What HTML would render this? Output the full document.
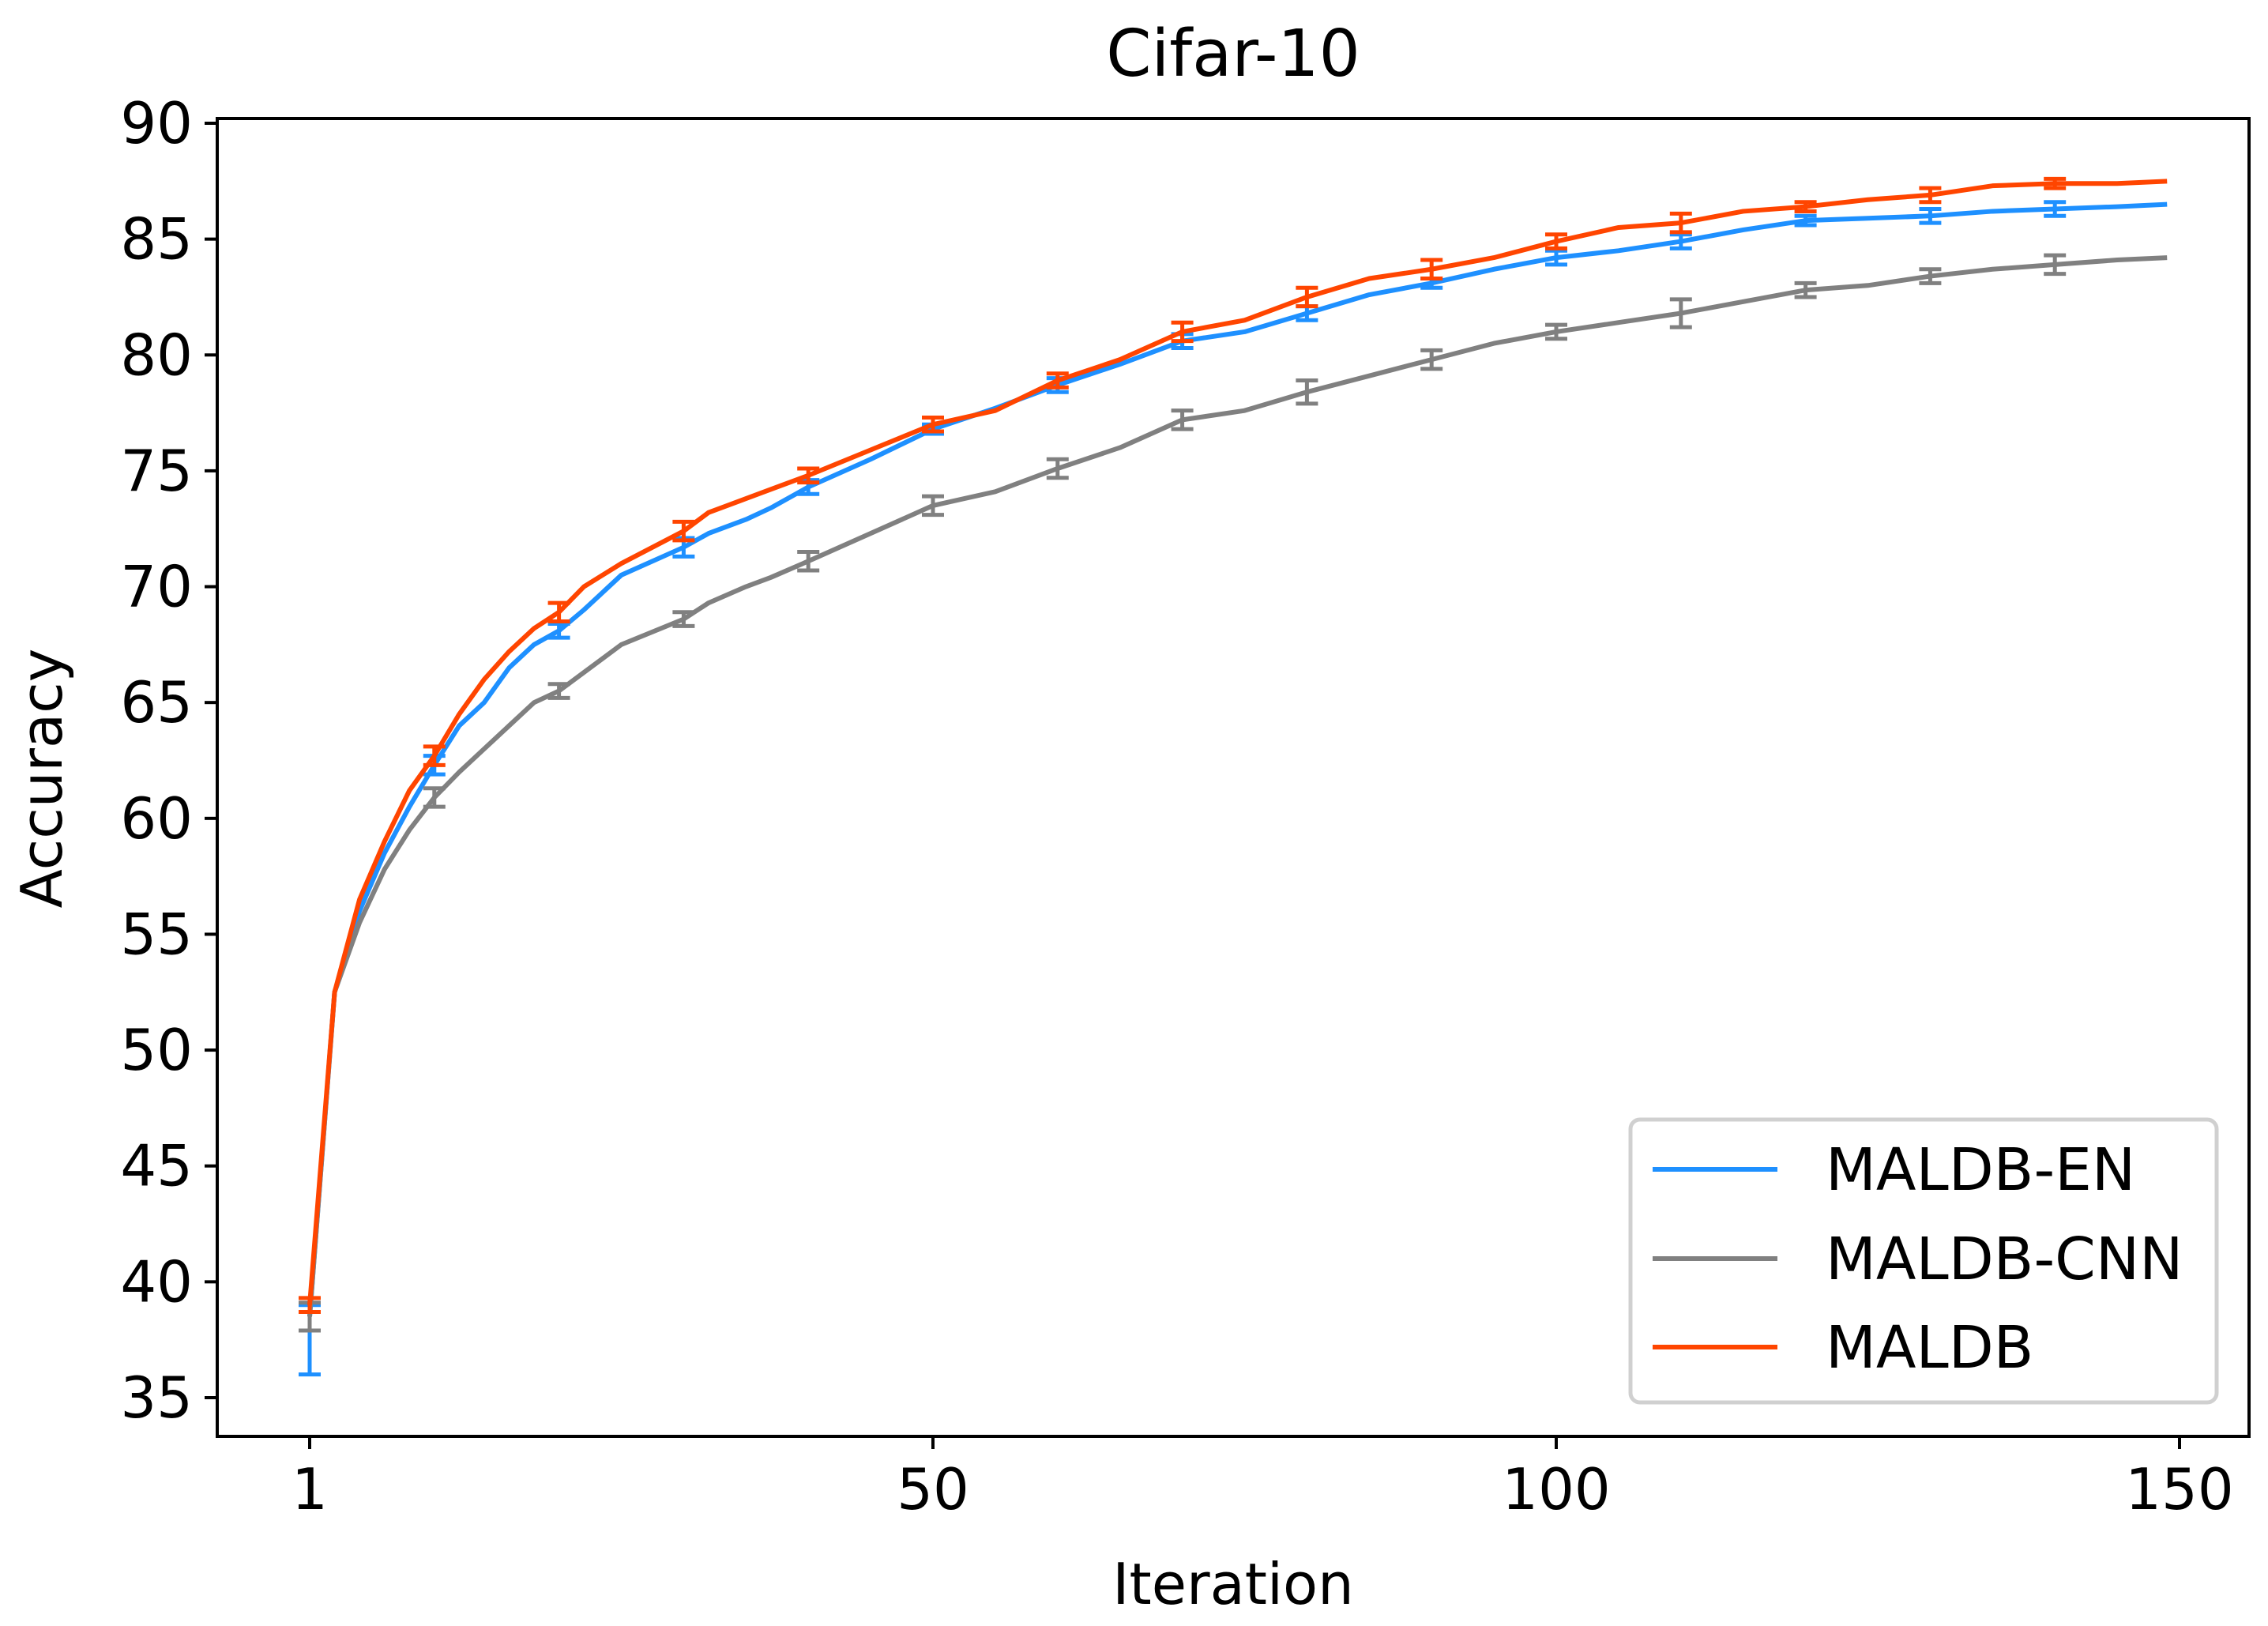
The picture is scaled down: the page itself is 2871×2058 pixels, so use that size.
<!DOCTYPE html>
<html><head><meta charset="utf-8"><style>
html,body{margin:0;padding:0;background:#fff;}
svg{display:block;font-family:"DejaVu Sans","Liberation Sans",sans-serif;}
</style></head><body>
<svg id="chart" width="2871" height="2058" viewBox="0 0 2871 2058" xmlns="http://www.w3.org/2000/svg">
<rect width="2871" height="2058" fill="#fff"/>
<text x="1561" y="96" font-size="82" text-anchor="middle">Cifar-10</text>
<text x="1561" y="2030" font-size="72" text-anchor="middle">Iteration</text>
<text transform="translate(78,985) rotate(-90)" font-size="72" text-anchor="middle">Accuracy</text>
<g id="plot"></g>
<rect x="275" y="150" width="2572" height="1668" fill="none" stroke="#000" stroke-width="4"/>
<g id="legend">
<rect x="2064" y="1417" width="742" height="358" rx="12" fill="#fff" fill-opacity="0.9" stroke="#d0d0d0" stroke-width="5"/>
<line x1="2092" y1="1480" x2="2250" y2="1480" stroke="#1e90ff" stroke-width="6"/>
<text x="2311" y="1506" font-size="74">MALDB-EN</text>
<line x1="2092" y1="1593" x2="2250" y2="1593" stroke="#808080" stroke-width="6"/>
<text x="2311" y="1619" font-size="74">MALDB-CNN</text>
<line x1="2092" y1="1705" x2="2250" y2="1705" stroke="#ff4500" stroke-width="6"/>
<text x="2311" y="1731" font-size="74">MALDB</text>
</g>
</svg>
<script>
const xs = [0,2,4,6,8,10,12,14,16,18,20,22,25,30,32,35,37,40,45,50,55,60,65,70,75,80,85,90,95,100,105,110,115,120,125,130,135,140,145,149];
const maldb = [39,52.5,56.5,59,61.2,62.7,64.5,66,67.2,68.2,68.9,70,71,72.4,73.2,73.8,74.2,74.8,75.9,77,77.6,78.9,79.8,81,81.5,82.5,83.3,83.7,84.2,84.9,85.5,85.7,86.2,86.4,86.7,86.9,87.3,87.4,87.4,87.5];
const maldbEn = [38.5,52.5,56,58.5,60.5,62.3,64,65,66.5,67.5,68.1,69,70.5,71.7,72.3,72.9,73.4,74.3,75.5,76.8,77.7,78.7,79.6,80.6,81,81.8,82.6,83.1,83.7,84.2,84.5,84.9,85.4,85.8,85.9,86,86.2,86.3,86.4,86.5];
const maldbCnn = [38.5,52.5,55.5,57.8,59.5,60.9,62,63,64,65,65.5,66.3,67.5,68.6,69.3,70,70.4,71.1,72.3,73.5,74.1,75.1,76,77.2,77.6,78.4,79.1,79.8,80.5,81,81.4,81.8,82.3,82.8,83,83.4,83.7,83.9,84.1,84.2];
const errX = [0,10,20,30,40,50,60,70,80,90,100,110,120,130,140];
const errMaldb = [0.3,0.4,0.4,0.4,0.3,0.3,0.3,0.4,0.4,0.4,0.3,0.4,0.2,0.3,0.2];
const errMaldbEn = [1.5,0.4,0.3,0.4,0.3,0.2,0.3,0.3,0.3,0.2,0.3,0.3,0.2,0.3,0.3];
const errMaldbCnn = [0.6,0.4,0.3,0.3,0.4,0.4,0.4,0.4,0.5,0.4,0.3,0.6,0.3,0.3,0.4];
const xTicks = [0,50,100,150];
const xTickLabels = ['1','50','100','150'];
const yTicks = [35,40,45,50,55,60,65,70,75,80,85,90];

function sx(v){return 392 + v*(2759-392)/150;}
function sy(v){return 156 + (90-v)*(1769-156)/55;}
const NS='http://www.w3.org/2000/svg';
const svg=document.getElementById('chart');
const plot=document.getElementById('plot');
function mk(tag,attrs,parent){const e=document.createElementNS(NS,tag);for(const k in attrs)e.setAttribute(k,attrs[k]);(parent||plot).appendChild(e);return e;}

yTicks.forEach(t=>{
  const l=mk('line',{x1:259,x2:275,y1:sy(t),y2:sy(t),stroke:'#000','stroke-width':4},svg);
  
  
  const tx=mk('text',{x:244,y:sy(t)+25,'font-size':72,'text-anchor':'end'},svg);
  tx.textContent=t;
  
  
});
xTicks.forEach((t,i)=>{
  const l=mk('line',{x1:sx(t),x2:sx(t),y1:1818,y2:1834,stroke:'#000','stroke-width':4},svg);
  
  
  const tx=mk('text',{x:sx(t),y:1910,'font-size':72,'text-anchor':'middle'},svg);
  tx.textContent=xTickLabels[i];
  
  
});

function series(vals,errs,color,name){
  const g=mk('g',{});
  
  
  const p=mk('polyline',{points:xs.map((x,i)=>sx(x)+','+sy(vals[i])).join(' '),fill:'none',stroke:color,'stroke-width':6,'stroke-linejoin':'round'},g);
  
  
  errX.forEach((x,i)=>{
    let k=xs.indexOf(x), v;
    if(k>=0) v=vals[k]; else { let j=xs.findIndex(q=>q>x); v=vals[j-1]+(vals[j]-vals[j-1])*(x-xs[j-1])/(xs[j]-xs[j-1]); }
    if(name==='maldb-en'&&i===0) v=37.5;
    const e=errs[i], cx=sx(x), y1=sy(v+e), y2=sy(v-e);
    const eb=mk('path',{d:`M${cx},${y1}V${y2}M${cx-14},${y1}H${cx+14}M${cx-14},${y2}H${cx+14}`,stroke:color,'stroke-width':5,fill:'none'},g);
    
    
  });
}
series(maldbEn,errMaldbEn,'#1e90ff','maldb-en');
series(maldbCnn,errMaldbCnn,'#808080','maldb-cnn');
series(maldb,errMaldb,'#ff4500','maldb');
</script>
</body></html>
